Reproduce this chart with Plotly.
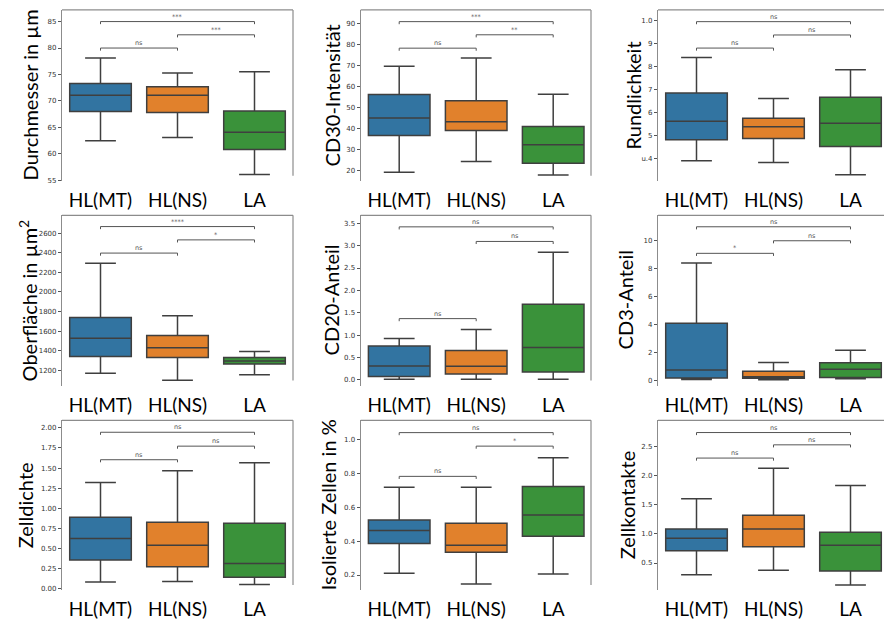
import plotly.graph_objects as go
from plotly.subplots import make_subplots

groups = ["HL(MT)", "HL(NS)", "LA"]
colors = ["#3274A1", "#E1812C", "#3A923A"]

# ---- data ----
durchmesser_low = [62.5, 63.1, 56.1]
durchmesser_q1 = [68.0, 67.8, 60.8]
durchmesser_med = [71.1, 71.1, 64.1]
durchmesser_q3 = [73.3, 72.7, 68.1]
durchmesser_up = [78.1, 75.3, 75.5]
durchmesser_sig = [(0, 1, 80.0, "ns"), (1, 2, 82.5, "***"), (0, 2, 85.0, "***")]

cd30_low = [19.0, 24.1, 17.7]
cd30_q1 = [36.6, 39.0, 23.3]
cd30_med = [45.0, 43.2, 32.2]
cd30_q3 = [56.2, 53.2, 40.9]
cd30_up = [69.7, 73.7, 56.4]
cd30_sig = [(0, 1, 78.4, "ns"), (1, 2, 84.8, "**"), (0, 2, 91.1, "***")]

rund_low = [0.391, 0.384, 0.330]
rund_q1 = [0.483, 0.488, 0.454]
rund_med = [0.563, 0.539, 0.555]
rund_q3 = [0.686, 0.577, 0.668]
rund_up = [0.841, 0.663, 0.788]
rund_sig = [(0, 1, 0.882, "ns"), (1, 2, 0.939, "ns"), (0, 2, 0.997, "ns")]
rund_tickvals = [0.4, 0.5, 0.6, 0.7, 0.8, 0.9, 1.0]
rund_ticktext = ["u.4", "5", "6", "7", "8", "9", "1.0"]

ober_low = [1169, 1097, 1155]
ober_q1 = [1341, 1331, 1263]
ober_med = [1527, 1429, 1294]
ober_q3 = [1740, 1554, 1331]
ober_up = [2292, 1757, 1392]
ober_sig = [(0, 1, 2397, "ns"), (1, 2, 2532, "*"), (0, 2, 2668, "****")]

cd20_low = [0.015, 0.015, 0.015]
cd20_q1 = [0.074, 0.133, 0.178]
cd20_med = [0.311, 0.303, 0.725]
cd20_q3 = [0.755, 0.659, 1.688]
cd20_up = [0.925, 1.125, 2.85]
cd20_sig = [(0, 1, 1.369, "ns"), (1, 2, 3.094, "ns"), (0, 2, 3.42, "ns")]

cd3_low = [0.07, 0.05, 0.12]
cd3_q1 = [0.19, 0.17, 0.21]
cd3_med = [0.76, 0.28, 0.81]
cd3_q3 = [4.10, 0.66, 1.28]
cd3_up = [8.41, 1.30, 2.16]
cd3_sig = [(0, 1, 9.1, "*"), (1, 2, 10.0, "ns"), (0, 2, 11.0, "ns")]

dichte_low = [0.082, 0.087, 0.049]
dichte_q1 = [0.355, 0.272, 0.140]
dichte_med = [0.623, 0.540, 0.313]
dichte_q3 = [0.887, 0.825, 0.812]
dichte_up = [1.320, 1.468, 1.567]
dichte_sig = [(0, 1, 1.604, "ns"), (1, 2, 1.773, "ns"), (0, 2, 1.946, "ns")]

iso_low = [0.210, 0.147, 0.206]
iso_q1 = [0.386, 0.335, 0.429]
iso_med = [0.463, 0.376, 0.555]
iso_q3 = [0.525, 0.506, 0.724]
iso_up = [0.720, 0.720, 0.894]
iso_sig = [(0, 1, 0.784, "ns"), (1, 2, 0.963, "*"), (0, 2, 1.043, "ns")]

kontakt_low = [0.301, 0.375, 0.125]
kontakt_q1 = [0.710, 0.778, 0.364]
kontakt_med = [0.926, 1.085, 0.807]
kontakt_q3 = [1.085, 1.318, 1.028]
kontakt_up = [1.602, 2.125, 1.830]
kontakt_sig = [(0, 1, 2.301, "ns"), (1, 2, 2.528, "ns"), (0, 2, 2.739, "ns")]

panels = [
    dict(title="Durchmesser in µm", low=durchmesser_low, q1=durchmesser_q1, med=durchmesser_med,
         q3=durchmesser_q3, up=durchmesser_up, sig=durchmesser_sig, yr=[54.9, 87.2], dtick=5, fmt=None),
    dict(title="CD30-Intensität", low=cd30_low, q1=cd30_q1, med=cd30_med,
         q3=cd30_q3, up=cd30_up, sig=cd30_sig, yr=[14.9, 96.7], dtick=10, fmt=None),
    dict(title="Rundlichkeit", low=rund_low, q1=rund_q1, med=rund_med,
         q3=rund_q3, up=rund_up, sig=rund_sig, yr=[0.304, 1.048], dtick=None, fmt=None),
    dict(title="Oberfläche in µm<sup>2</sup>", low=ober_low, q1=ober_q1, med=ober_med,
         q3=ober_q3, up=ober_up, sig=ober_sig, yr=[1044, 2783], dtick=200, fmt=None),
    dict(title="CD20-Anteil", low=cd20_low, q1=cd20_q1, med=cd20_med,
         q3=cd20_q3, up=cd20_up, sig=cd20_sig, yr=[-0.126, 3.678], dtick=0.5, fmt=".1f"),
    dict(title="CD3-Anteil", low=cd3_low, q1=cd3_q1, med=cd3_med,
         q3=cd3_q3, up=cd3_up, sig=cd3_sig, yr=[-0.355, 11.82], dtick=2, fmt=None),
    dict(title="Zelldichte", low=dichte_low, q1=dichte_q1, med=dichte_med,
         q3=dichte_q3, up=dichte_up, sig=dichte_sig, yr=[-0.021, 2.095], dtick=0.25, fmt=".2f"),
    dict(title="Isolierte Zellen in %", low=iso_low, q1=iso_q1, med=iso_med,
         q3=iso_q3, up=iso_up, sig=iso_sig, yr=[0.110, 1.116], dtick=0.2, fmt=".1f"),
    dict(title="Zellkontakte", low=kontakt_low, q1=kontakt_q1, med=kontakt_med,
         q3=kontakt_q3, up=kontakt_up, sig=kontakt_sig, yr=[0.034, 2.949], dtick=0.5, fmt=".1f"),
]

W, H = 884, 625
col_px = [(62, 293), (360.7, 591), (658, 884)]
row_px = [(10, 182), (216.7, 388), (423, 594)]
title_x_px = [30, 332, 633, 28, 331, 625, 25, 328, 627]

fig = make_subplots(rows=3, cols=3)

SPINE = "#8c8c8c"
EDGE = "#3f3f3f"
BRK = "#555555"

for i, p in enumerate(panels):
    r, c = i // 3, i % 3
    for g in range(3):
        fig.add_trace(go.Box(
            x=[groups[g]], lowerfence=[p["low"][g]], q1=[p["q1"][g]], median=[p["med"][g]],
            q3=[p["q3"][g]], upperfence=[p["up"][g]],
            fillcolor=colors[g], line=dict(color=EDGE, width=1.5),
            width=0.8, whiskerwidth=0.5, boxpoints=False, showlegend=False,
            name=groups[g]), row=r + 1, col=c + 1)

    ax = "" if i == 0 else str(i + 1)
    x0, x1 = col_px[c]
    yt, yb = row_px[r]
    span_px = x1 - x0
    xr = [-0.5, -0.5 + 3 * span_px / (col_px[0][1] - col_px[0][0])]
    fig.layout["xaxis" + ax].update(
        domain=[x0 / W, x1 / W], range=xr, type="category",
        showline=False, showgrid=False, zeroline=False, ticks="",
        tickfont=dict(family="Lato", size=19, color="#000000"),
        ticklabelstandoff=6,
    )
    yax = dict(
        domain=[1 - yb / H, 1 - yt / H], range=p["yr"],
        showline=True, linecolor=SPINE, linewidth=1.2, mirror=False,
        showgrid=False, zeroline=False, ticks="outside", ticklen=3, tickwidth=1,
        tickcolor="#555555", tickfont=dict(family="DejaVu Sans", size=7, color="#333333"),
    )
    if p["dtick"] is not None:
        yax["dtick"] = p["dtick"]
        yax["tick0"] = 0
    else:
        yax["tickmode"] = "array"
        yax["tickvals"] = rund_tickvals
        yax["ticktext"] = rund_ticktext
    if p["fmt"]:
        yax["tickformat"] = p["fmt"]
    fig.layout["yaxis" + ax].update(**yax)

    xref = "x" + ax
    yref = "y" + ax
    # top spine
    fig.add_shape(type="line", xref=xref + " domain", yref=yref + " domain",
                  x0=0, x1=1, y0=1, y1=1, line=dict(color=SPINE, width=1.2))
    # right spine (not visible for the last column, cut at image edge)
    if c < 2:
        fig.add_shape(type="line", xref=xref + " domain", yref=yref + " domain",
                      x0=1, x1=1, y0=0.03, y1=1, line=dict(color=SPINE, width=1.2))

    # significance brackets
    tick_len = (p["yr"][1] - p["yr"][0]) * 2.6 / (yb - yt)
    for (a, b, yv, lab) in p["sig"]:
        fig.add_shape(type="path", xref=xref, yref=yref,
                      path=f"M {a},{yv - tick_len} L {a},{yv} L {b},{yv} L {b},{yv - tick_len}",
                      line=dict(color=BRK, width=1))
        fig.add_annotation(x=(a + b) / 2, y=yv, xref=xref, yref=yref, text=lab,
                           showarrow=False, yanchor="bottom", yshift=-1,
                           font=dict(family="DejaVu Sans", size=6.5, color="#555555"))

    # y-axis title
    fig.add_annotation(x=title_x_px[i] / W, y=1 - (yt + yb) / 2 / H, xref="paper", yref="paper",
                       text=p["title"], textangle=-90, showarrow=False,
                       xanchor="center", yanchor="middle",
                       font=dict(family="Lato", size=20, color="#000000"))

fig.update_layout(
    width=W, height=H, margin=dict(l=0, r=0, t=0, b=0),
    paper_bgcolor="white", plot_bgcolor="white", boxmode="overlay",
)

fig.write_html("out.html", config={"displayModeBar": False},
               post_script="document.body.style.margin='0';document.body.style.padding='0';")
